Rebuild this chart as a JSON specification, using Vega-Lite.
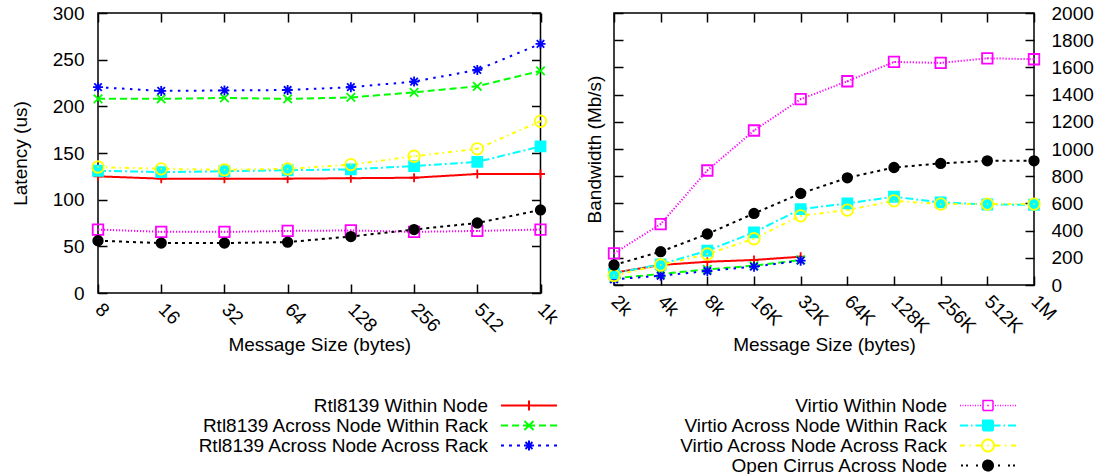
{
  "$schema": "https://vega.github.io/schema/vega-lite/v6.json",
  "padding": {"left": 10, "top": 3, "right": 0, "bottom": 0},
  "spacing": 21,
  "datasets": {
    "lat": [
      {"s": "Rtl8139 Within Node", "x": "8", "v": 125},
      {"s": "Rtl8139 Within Node", "x": "16", "v": 122.5},
      {"s": "Rtl8139 Within Node", "x": "32", "v": 122.5},
      {"s": "Rtl8139 Within Node", "x": "64", "v": 122.5},
      {"s": "Rtl8139 Within Node", "x": "128", "v": 123},
      {"s": "Rtl8139 Within Node", "x": "256", "v": 123.5},
      {"s": "Rtl8139 Within Node", "x": "512", "v": 127.5},
      {"s": "Rtl8139 Within Node", "x": "1k", "v": 127.5},
      {"s": "Rtl8139 Across Node Within Rack", "x": "8", "v": 208},
      {"s": "Rtl8139 Across Node Within Rack", "x": "16", "v": 208},
      {"s": "Rtl8139 Across Node Within Rack", "x": "32", "v": 209},
      {"s": "Rtl8139 Across Node Within Rack", "x": "64", "v": 208},
      {"s": "Rtl8139 Across Node Within Rack", "x": "128", "v": 209.5},
      {"s": "Rtl8139 Across Node Within Rack", "x": "256", "v": 215},
      {"s": "Rtl8139 Across Node Within Rack", "x": "512", "v": 221.5},
      {"s": "Rtl8139 Across Node Within Rack", "x": "1k", "v": 238},
      {"s": "Rtl8139 Across Node Across Rack", "x": "8", "v": 220.5},
      {"s": "Rtl8139 Across Node Across Rack", "x": "16", "v": 216.5},
      {"s": "Rtl8139 Across Node Across Rack", "x": "32", "v": 217},
      {"s": "Rtl8139 Across Node Across Rack", "x": "64", "v": 217.5},
      {"s": "Rtl8139 Across Node Across Rack", "x": "128", "v": 220.5},
      {"s": "Rtl8139 Across Node Across Rack", "x": "256", "v": 226.5},
      {"s": "Rtl8139 Across Node Across Rack", "x": "512", "v": 239},
      {"s": "Rtl8139 Across Node Across Rack", "x": "1k", "v": 267},
      {"s": "Virtio Within Node", "x": "8", "v": 68},
      {"s": "Virtio Within Node", "x": "16", "v": 65.5},
      {"s": "Virtio Within Node", "x": "32", "v": 65.5},
      {"s": "Virtio Within Node", "x": "64", "v": 66.5},
      {"s": "Virtio Within Node", "x": "128", "v": 67},
      {"s": "Virtio Within Node", "x": "256", "v": 65.5},
      {"s": "Virtio Within Node", "x": "512", "v": 66.5},
      {"s": "Virtio Within Node", "x": "1k", "v": 68},
      {"s": "Virtio Across Node Within Rack", "x": "8", "v": 131},
      {"s": "Virtio Across Node Within Rack", "x": "16", "v": 129.5},
      {"s": "Virtio Across Node Within Rack", "x": "32", "v": 130.5},
      {"s": "Virtio Across Node Within Rack", "x": "64", "v": 131.5},
      {"s": "Virtio Across Node Within Rack", "x": "128", "v": 132.5},
      {"s": "Virtio Across Node Within Rack", "x": "256", "v": 136},
      {"s": "Virtio Across Node Within Rack", "x": "512", "v": 140.5},
      {"s": "Virtio Across Node Within Rack", "x": "1k", "v": 157},
      {"s": "Virtio Across Node Across Rack", "x": "8", "v": 135},
      {"s": "Virtio Across Node Across Rack", "x": "16", "v": 133},
      {"s": "Virtio Across Node Across Rack", "x": "32", "v": 132},
      {"s": "Virtio Across Node Across Rack", "x": "64", "v": 133},
      {"s": "Virtio Across Node Across Rack", "x": "128", "v": 137.5},
      {"s": "Virtio Across Node Across Rack", "x": "256", "v": 146.5},
      {"s": "Virtio Across Node Across Rack", "x": "512", "v": 154.5},
      {"s": "Virtio Across Node Across Rack", "x": "1k", "v": 184},
      {"s": "Open Cirrus Across Node", "x": "8", "v": 56},
      {"s": "Open Cirrus Across Node", "x": "16", "v": 53.5},
      {"s": "Open Cirrus Across Node", "x": "32", "v": 53.5},
      {"s": "Open Cirrus Across Node", "x": "64", "v": 54.5},
      {"s": "Open Cirrus Across Node", "x": "128", "v": 60.5},
      {"s": "Open Cirrus Across Node", "x": "256", "v": 68},
      {"s": "Open Cirrus Across Node", "x": "512", "v": 75},
      {"s": "Open Cirrus Across Node", "x": "1k", "v": 89}
    ],
    "bw": [
      {"s": "Rtl8139 Within Node", "x": "2k", "v": 90},
      {"s": "Rtl8139 Within Node", "x": "4k", "v": 147},
      {"s": "Rtl8139 Within Node", "x": "8k", "v": 171},
      {"s": "Rtl8139 Within Node", "x": "16K", "v": 184},
      {"s": "Rtl8139 Within Node", "x": "32K", "v": 208},
      {"s": "Rtl8139 Across Node Within Rack", "x": "2k", "v": 49},
      {"s": "Rtl8139 Across Node Within Rack", "x": "4k", "v": 81},
      {"s": "Rtl8139 Across Node Within Rack", "x": "8k", "v": 115},
      {"s": "Rtl8139 Across Node Within Rack", "x": "16K", "v": 142},
      {"s": "Rtl8139 Across Node Within Rack", "x": "32K", "v": 184},
      {"s": "Rtl8139 Across Node Across Rack", "x": "2k", "v": 42},
      {"s": "Rtl8139 Across Node Across Rack", "x": "4k", "v": 68},
      {"s": "Rtl8139 Across Node Across Rack", "x": "8k", "v": 103},
      {"s": "Rtl8139 Across Node Across Rack", "x": "16K", "v": 135},
      {"s": "Rtl8139 Across Node Across Rack", "x": "32K", "v": 179},
      {"s": "Virtio Within Node", "x": "2k", "v": 233},
      {"s": "Virtio Within Node", "x": "4k", "v": 448},
      {"s": "Virtio Within Node", "x": "8k", "v": 842},
      {"s": "Virtio Within Node", "x": "16K", "v": 1136},
      {"s": "Virtio Within Node", "x": "32K", "v": 1366},
      {"s": "Virtio Within Node", "x": "64K", "v": 1498},
      {"s": "Virtio Within Node", "x": "128K", "v": 1640},
      {"s": "Virtio Within Node", "x": "256K", "v": 1633},
      {"s": "Virtio Within Node", "x": "512K", "v": 1667},
      {"s": "Virtio Within Node", "x": "1M", "v": 1660},
      {"s": "Virtio Across Node Within Rack", "x": "2k", "v": 85},
      {"s": "Virtio Across Node Within Rack", "x": "4k", "v": 152},
      {"s": "Virtio Across Node Within Rack", "x": "8k", "v": 252},
      {"s": "Virtio Across Node Within Rack", "x": "16K", "v": 387},
      {"s": "Virtio Across Node Within Rack", "x": "32K", "v": 558},
      {"s": "Virtio Across Node Within Rack", "x": "64K", "v": 600},
      {"s": "Virtio Across Node Within Rack", "x": "128K", "v": 649},
      {"s": "Virtio Across Node Within Rack", "x": "256K", "v": 607},
      {"s": "Virtio Across Node Within Rack", "x": "512K", "v": 592},
      {"s": "Virtio Across Node Within Rack", "x": "1M", "v": 590},
      {"s": "Virtio Across Node Across Rack", "x": "2k", "v": 70},
      {"s": "Virtio Across Node Across Rack", "x": "4k", "v": 147},
      {"s": "Virtio Across Node Across Rack", "x": "8k", "v": 228},
      {"s": "Virtio Across Node Across Rack", "x": "16K", "v": 340},
      {"s": "Virtio Across Node Across Rack", "x": "32K", "v": 509},
      {"s": "Virtio Across Node Across Rack", "x": "64K", "v": 551},
      {"s": "Virtio Across Node Across Rack", "x": "128K", "v": 619},
      {"s": "Virtio Across Node Across Rack", "x": "256K", "v": 595},
      {"s": "Virtio Across Node Across Rack", "x": "512K", "v": 595},
      {"s": "Virtio Across Node Across Rack", "x": "1M", "v": 595},
      {"s": "Open Cirrus Across Node", "x": "2k", "v": 147},
      {"s": "Open Cirrus Across Node", "x": "4k", "v": 245},
      {"s": "Open Cirrus Across Node", "x": "8k", "v": 375},
      {"s": "Open Cirrus Across Node", "x": "16K", "v": 526},
      {"s": "Open Cirrus Across Node", "x": "32K", "v": 673},
      {"s": "Open Cirrus Across Node", "x": "64K", "v": 788},
      {"s": "Open Cirrus Across Node", "x": "128K", "v": 864},
      {"s": "Open Cirrus Across Node", "x": "256K", "v": 894},
      {"s": "Open Cirrus Across Node", "x": "512K", "v": 913},
      {"s": "Open Cirrus Across Node", "x": "1M", "v": 913}
    ]
  },
  "config": {
    "font": "Liberation Sans",
    "view": {"stroke": "#000000", "strokeWidth": 1.5},
    "axis": {
      "labelFontSize": 19, "titleFontSize": 19, "titleFontWeight": "normal",
      "labelColor": "#000000", "titleColor": "#000000", "tickColor": "#000000",
      "tickWidth": 1.5, "tickSize": -9, "domain": false, "grid": false,
      "labelOverlap": false, "labelFlush": false, "labelBound": false, "minExtent": 0
    },
    "legend": {"labelFontSize": 19, "labelColor": "#000000", "labelLimit": 500}
  },
  "resolve": {"legend": {"color": "independent"}},
  "hconcat": [
    {
      "width": 442.5,
      "height": 280,
      "data": {"name": "lat"},
      "resolve": {"axis": {"x": "independent", "y": "independent"}},
      "layer": [
        {
          "mark": {"type": "line", "clip": false},
          "encoding": {
            "x": {"field": "x", "type": "ordinal", "sort": null,
              "scale": {"type": "point", "padding": 0, "domain": ["8", "16", "32", "64", "128", "256", "512", "1k"]},
              "axis": {"orient": "bottom", "title": "Message Size (bytes)", "labelAngle": 45, "labelAlign": "left", "labelBaseline": "middle", "labelPadding": 22, "titlePadding": 0}},
            "y": {"field": "v", "type": "quantitative",
              "scale": {"domain": [0, 300], "nice": false, "zero": true},
              "axis": {"orient": "left", "title": "Latency (us)", "values": [0, 50, 100, 150, 200, 250, 300], "labelPadding": 23, "titlePadding": 22}},
            "color": {"field": "s", "type": "nominal",
              "scale": {"domain": ["Rtl8139 Within Node", "Rtl8139 Across Node Within Rack", "Rtl8139 Across Node Across Rack", "Virtio Within Node", "Virtio Across Node Within Rack", "Virtio Across Node Across Rack", "Open Cirrus Across Node"],
                "range": ["#ff0000", "#00ff00", "#0000ff", "#ff00ff", "#00ffff", "#ffff00", "#000000"]},
              "legend": {
                "values": ["Rtl8139 Within Node", "Rtl8139 Across Node Within Rack", "Rtl8139 Across Node Across Rack"],
                "title": null, "orient": "none", "legendX": 421.5, "legendY": 383, "padding": 0,
                "labelAlign": "right", "labelOffset": -50.5, "symbolSize": 4, "symbolStrokeWidth": 2, "rowPadding": -1,
                "encode": {
                  "symbols": {
                    "update": {
                      "shape": {"signal": "datum.value === 'Rtl8139 Within Node' ? 'M-28,0L28,0M0,-5L0,5' : datum.value === 'Rtl8139 Across Node Within Rack' ? 'M-28,0L-21,0M-17,0L-10,0M-6,0L6,0M10,0L17,0M21,0L28,0M-4.5,-4.5L4.5,4.5M-4.5,4.5L4.5,-4.5' : 'M-28,0L-25,0M-20,0L-17,0M-12,0L-9,0M9,0L12,0M17,0L20,0M25,0L28,0M-5,0L5,0M0,-5L0,5M-3.5,-3.5L3.5,3.5M-3.5,3.5L3.5,-3.5'"},
                      "stroke": {"signal": "datum.value === 'Rtl8139 Within Node' ? '#ff0000' : datum.value === 'Rtl8139 Across Node Within Rack' ? '#00ff00' : '#0000ff'"},
                      "fill": {"value": "transparent"},
                      "strokeDash": {"value": [1, 0]},
                      "strokeWidth": {"value": 2},
                      "size": {"value": 4},
                      "opacity": {"value": 1}
                    }
                  }
                }
              }},
            "strokeDash": {"field": "s", "type": "nominal", "legend": null,
              "scale": {"domain": ["Rtl8139 Within Node", "Rtl8139 Across Node Within Rack", "Rtl8139 Across Node Across Rack", "Virtio Within Node", "Virtio Across Node Within Rack", "Virtio Across Node Across Rack", "Open Cirrus Across Node"],
                "range": [[1, 0], [7, 4], [2.5, 5.5], [1.2, 1.8], [8, 3, 2, 3], [4, 4, 1.5, 4], [3, 4]]}},
            "strokeWidth": {"field": "s", "type": "nominal", "legend": null,
              "scale": {"domain": ["Rtl8139 Within Node", "Rtl8139 Across Node Within Rack", "Rtl8139 Across Node Across Rack", "Virtio Within Node", "Virtio Across Node Within Rack", "Virtio Across Node Across Rack", "Open Cirrus Across Node"],
                "range": [2, 2, 2.5, 1.5, 2, 2, 2.5]}}
          }
        },
        {
          "mark": {"type": "point", "filled": false, "opacity": 1, "size": 100, "strokeWidth": 1.8, "clip": false},
          "encoding": {
            "x": {"field": "x", "type": "ordinal", "sort": null,
              "scale": {"type": "point", "padding": 0, "domain": ["8", "16", "32", "64", "128", "256", "512", "1k"]},
              "axis": {"orient": "top", "labels": false, "title": null}},
            "y": {"field": "v", "type": "quantitative",
              "scale": {"domain": [0, 300], "nice": false, "zero": true},
              "axis": {"orient": "right", "labels": false, "title": null, "values": [0, 50, 100, 150, 200, 250, 300]}},
            "color": {"field": "s", "type": "nominal",
              "scale": {"domain": ["Rtl8139 Within Node", "Rtl8139 Across Node Within Rack", "Rtl8139 Across Node Across Rack", "Virtio Within Node", "Virtio Across Node Within Rack", "Virtio Across Node Across Rack", "Open Cirrus Across Node"],
                "range": ["#ff0000", "#00ff00", "#0000ff", "#ff00ff", "#00ffff", "#ffff00", "#000000"]}},
            "shape": {"field": "s", "type": "nominal", "legend": null,
              "scale": {"domain": ["Rtl8139 Within Node", "Rtl8139 Across Node Within Rack", "Rtl8139 Across Node Across Rack", "Virtio Within Node", "Virtio Across Node Within Rack", "Virtio Across Node Across Rack", "Open Cirrus Across Node"],
                "range": ["M-0.9,0L0.9,0M0,-0.9L0,0.9", "M-0.85,-0.85L0.85,0.85M-0.85,0.85L0.85,-0.85", "M-1,0L1,0M0,-1L0,1M-0.75,-0.75L0.75,0.75M-0.75,0.75L0.75,-0.75", "M-1.05,-1.05L1.05,-1.05L1.05,1.05L-1.05,1.05Z M-0.12,0L0.12,0", "M-1,-1L1,-1L1,1L-1,1Z", "M1.15,0A1.15,1.15,0,1,1,-1.15,0A1.15,1.15,0,1,1,1.15,0Z M-0.12,0L0.12,0", "M0.95,0A0.95,0.95,0,1,1,-0.95,0A0.95,0.95,0,1,1,0.95,0Z"]}},
            "fill": {"field": "s", "type": "nominal", "legend": null,
              "scale": {"domain": ["Rtl8139 Within Node", "Rtl8139 Across Node Within Rack", "Rtl8139 Across Node Across Rack", "Virtio Within Node", "Virtio Across Node Within Rack", "Virtio Across Node Across Rack", "Open Cirrus Across Node"],
                "range": ["transparent", "transparent", "transparent", "transparent", "#00ffff", "transparent", "#000000"]}}
          }
        }
      ]
    },
    {
      "width": 420,
      "height": 272,
      "data": {"name": "bw"},
      "resolve": {"axis": {"x": "independent", "y": "independent"}},
      "layer": [
        {
          "mark": {"type": "line", "clip": false},
          "encoding": {
            "x": {"field": "x", "type": "ordinal", "sort": null,
              "scale": {"type": "point", "padding": 0, "domain": ["2k", "4k", "8k", "16K", "32K", "64K", "128K", "256K", "512K", "1M"]},
              "axis": {"orient": "bottom", "title": "Message Size (bytes)", "labelAngle": 45, "labelAlign": "left", "labelBaseline": "middle", "labelPadding": 22, "titlePadding": -1}},
            "y": {"field": "v", "type": "quantitative",
              "scale": {"domain": [0, 2000], "nice": false, "zero": true},
              "axis": {"orient": "left", "title": "Bandwidth (Mb/s)", "labels": false, "values": [0, 200, 400, 600, 800, 1000, 1200, 1400, 1600, 1800, 2000], "titlePadding": 9}},
            "color": {"field": "s", "type": "nominal",
              "scale": {"domain": ["Rtl8139 Within Node", "Rtl8139 Across Node Within Rack", "Rtl8139 Across Node Across Rack", "Virtio Within Node", "Virtio Across Node Within Rack", "Virtio Across Node Across Rack", "Open Cirrus Across Node"],
                "range": ["#ff0000", "#00ff00", "#0000ff", "#ff00ff", "#00ffff", "#ffff00", "#000000"]},
              "legend": {
                "values": ["Virtio Within Node", "Virtio Across Node Within Rack", "Virtio Across Node Across Rack", "Open Cirrus Across Node"],
                "title": null, "orient": "none", "legendX": 364.5, "legendY": 383, "padding": 0,
                "labelAlign": "right", "labelOffset": -50.5, "symbolSize": 4, "symbolStrokeWidth": 2, "rowPadding": -1,
                "encode": {
                  "symbols": {
                    "update": {
                      "shape": {"signal": "datum.value === 'Virtio Within Node' ? 'M-28,0L-27,0M-25.5,0L-24.5,0M-23,0L-22,0M-20.5,0L-19.5,0M-18,0L-17,0M-15.5,0L-14.5,0M-13,0L-12,0M-10.5,0L-9.5,0M-8,0L-7,0M7,0L8,0M9.5,0L10.5,0M12,0L13,0M14.5,0L15.5,0M17,0L18,0M19.5,0L20.5,0M22,0L23,0M24.5,0L25.5,0M27,0L28,0M-5,-5L5,-5L5,5L-5,5ZM-0.8,0L0.8,0' : datum.value === 'Virtio Across Node Within Rack' ? 'M-28,0L-20,0M-17,0L-15.5,0M-12.5,0L-5,0M5,0L12.5,0M15.5,0L17,0M20,0L28,0M-5,-5L5,-5L5,5L-5,5Z' : datum.value === 'Virtio Across Node Across Rack' ? 'M-28,0L-23,0M-18.5,0L-17,0M-12.5,0L-6,0M6,0L12.5,0M17,0L18.5,0M23,0L28,0M6,0A6,6,0,1,1,-6,0A6,6,0,1,1,6,0ZM-0.8,0L0.8,0' : 'M-27,0L-25,0M-22,0L-20,0M-12,0L-10,0M10,0L12,0M20,0L22,0M25,0L27,0M5,0A5,5,0,1,1,-5,0A5,5,0,1,1,5,0Z'"},
                      "stroke": {"signal": "datum.value === 'Virtio Within Node' ? '#ff00ff' : datum.value === 'Virtio Across Node Within Rack' ? '#00ffff' : datum.value === 'Virtio Across Node Across Rack' ? '#ffff00' : '#000000'"},
                      "fill": {"signal": "datum.value === 'Virtio Across Node Within Rack' ? '#00ffff' : datum.value === 'Open Cirrus Across Node' ? '#000000' : 'transparent'"},
                      "strokeDash": {"value": [1, 0]},
                      "strokeWidth": {"signal": "datum.value === 'Virtio Within Node' ? 1.5 : 2"},
                      "size": {"value": 4},
                      "opacity": {"value": 1}
                    }
                  }
                }
              }},
            "strokeDash": {"field": "s", "type": "nominal", "legend": null,
              "scale": {"domain": ["Rtl8139 Within Node", "Rtl8139 Across Node Within Rack", "Rtl8139 Across Node Across Rack", "Virtio Within Node", "Virtio Across Node Within Rack", "Virtio Across Node Across Rack", "Open Cirrus Across Node"],
                "range": [[1, 0], [7, 4], [2.5, 5.5], [1.2, 1.8], [8, 3, 2, 3], [4, 4, 1.5, 4], [3, 4]]}},
            "strokeWidth": {"field": "s", "type": "nominal", "legend": null,
              "scale": {"domain": ["Rtl8139 Within Node", "Rtl8139 Across Node Within Rack", "Rtl8139 Across Node Across Rack", "Virtio Within Node", "Virtio Across Node Within Rack", "Virtio Across Node Across Rack", "Open Cirrus Across Node"],
                "range": [2, 2, 2.5, 1.5, 2, 2, 2.5]}}
          }
        },
        {
          "mark": {"type": "point", "filled": false, "opacity": 1, "size": 100, "strokeWidth": 1.8, "clip": false},
          "encoding": {
            "x": {"field": "x", "type": "ordinal", "sort": null,
              "scale": {"type": "point", "padding": 0, "domain": ["2k", "4k", "8k", "16K", "32K", "64K", "128K", "256K", "512K", "1M"]},
              "axis": {"orient": "top", "labels": false, "title": null}},
            "y": {"field": "v", "type": "quantitative",
              "scale": {"domain": [0, 2000], "nice": false, "zero": true},
              "axis": {"orient": "right", "title": null, "format": "d", "values": [0, 200, 400, 600, 800, 1000, 1200, 1400, 1600, 1800, 2000], "labelPadding": 26}},
            "color": {"field": "s", "type": "nominal",
              "scale": {"domain": ["Rtl8139 Within Node", "Rtl8139 Across Node Within Rack", "Rtl8139 Across Node Across Rack", "Virtio Within Node", "Virtio Across Node Within Rack", "Virtio Across Node Across Rack", "Open Cirrus Across Node"],
                "range": ["#ff0000", "#00ff00", "#0000ff", "#ff00ff", "#00ffff", "#ffff00", "#000000"]}},
            "shape": {"field": "s", "type": "nominal", "legend": null,
              "scale": {"domain": ["Rtl8139 Within Node", "Rtl8139 Across Node Within Rack", "Rtl8139 Across Node Across Rack", "Virtio Within Node", "Virtio Across Node Within Rack", "Virtio Across Node Across Rack", "Open Cirrus Across Node"],
                "range": ["M-0.9,0L0.9,0M0,-0.9L0,0.9", "M-0.85,-0.85L0.85,0.85M-0.85,0.85L0.85,-0.85", "M-1,0L1,0M0,-1L0,1M-0.75,-0.75L0.75,0.75M-0.75,0.75L0.75,-0.75", "M-1.05,-1.05L1.05,-1.05L1.05,1.05L-1.05,1.05Z M-0.12,0L0.12,0", "M-1,-1L1,-1L1,1L-1,1Z", "M1.15,0A1.15,1.15,0,1,1,-1.15,0A1.15,1.15,0,1,1,1.15,0Z M-0.12,0L0.12,0", "M0.95,0A0.95,0.95,0,1,1,-0.95,0A0.95,0.95,0,1,1,0.95,0Z"]}},
            "fill": {"field": "s", "type": "nominal", "legend": null,
              "scale": {"domain": ["Rtl8139 Within Node", "Rtl8139 Across Node Within Rack", "Rtl8139 Across Node Across Rack", "Virtio Within Node", "Virtio Across Node Within Rack", "Virtio Across Node Across Rack", "Open Cirrus Across Node"],
                "range": ["transparent", "transparent", "transparent", "transparent", "#00ffff", "transparent", "#000000"]}}
          }
        }
      ]
    }
  ]
}
